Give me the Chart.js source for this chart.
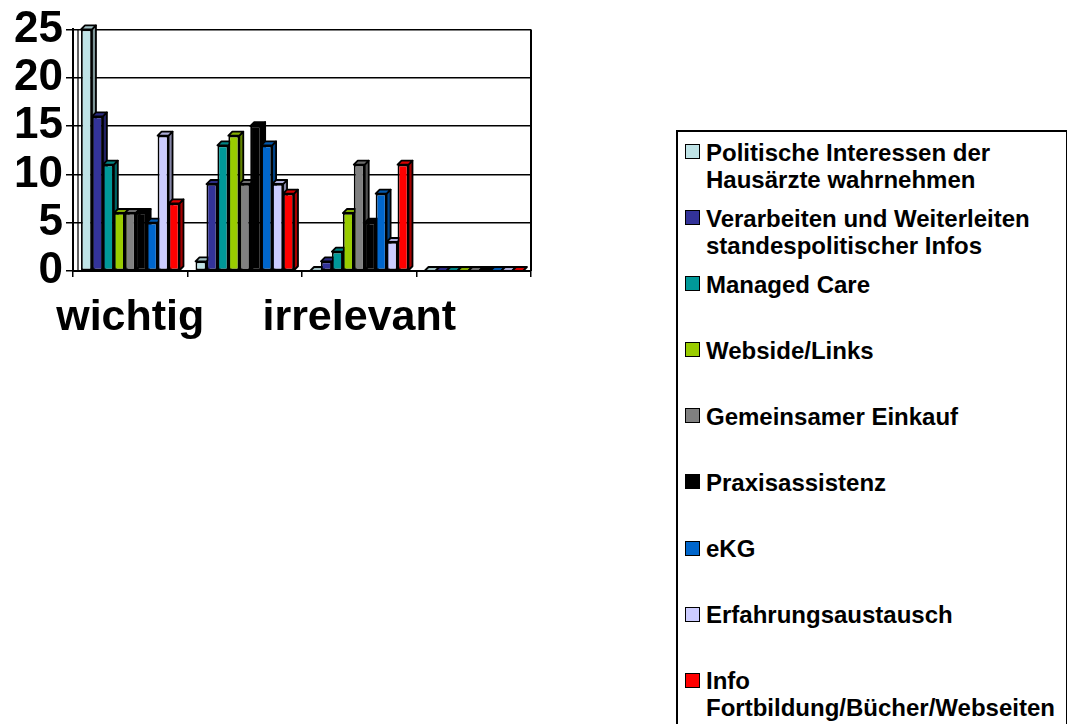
<!DOCTYPE html>
<html>
<head>
<meta charset="utf-8">
<script src="https://cdn.jsdelivr.net/npm/chart.js@4.4.1/dist/chart.umd.min.js"></script>
<style>
  body { margin: 0; background: #fff; width: 1067px; height: 724px; overflow: hidden; position: relative;
         font-family: "Liberation Sans", Arial, sans-serif; }
  #wrap { position: absolute; left: 0; top: 0; width: 545px; height: 360px; }
  #legend { position: absolute; left: 676px; top: 130px; width: 392px; height: 610px;
            border: 2px solid #000; box-sizing: border-box; padding-top: 6.5px; }
  .item { height: 66.1px; display: flex; align-items: flex-start; }
  .sw { width: 13px; height: 13px; border: 1.5px solid #000; margin: 5.5px 6px 0 7px; flex: none; }
  .txt { font-weight: bold; font-size: 24px; line-height: 27px; width: 352px; color: #000; }
</style>
</head>
<body>
<div id="wrap"><canvas id="chart"></canvas></div>
<div id="legend"></div>
<script>
// Kategorien (nur jede zweite wird beschriftet)
const categories = ['wichtig', '', 'irrelevant', ''];
const yTicks = [0, 5, 10, 15, 20, 25];

const seriesNames = [
    'Politische Interessen der Hausärzte wahrnehmen',
    'Verarbeiten und Weiterleiten standespolitischer Infos',
    'Managed Care',
    'Webside/Links',
    'Gemeinsamer Einkauf',
    'Praxisassistenz',
    'eKG',
    'Erfahrungsaustausch',
    'Info Fortbildung/Bücher/Webseiten'
];
const seriesColors = ['#bfe3e6', '#333399', '#009999', '#99cc00', '#808080', '#000000', '#0066cc', '#ccccff', '#ff0000'];

const politische   = [25, 1, 0, 0];
const verarbeiten  = [16, 9, 1, 0];
const managedCare  = [11, 13, 2, 0];
const webside      = [6, 14, 6, 0];
const einkauf      = [6, 9, 11, 0];
const praxis       = [6, 15, 5, 0];
const ekg          = [5, 13, 8, 0];
const erfahrung    = [14, 9, 3, 0];
const info         = [7, 8, 11, 0];

const seriesValues = [politische, verarbeiten, managedCare, webside, einkauf, praxis, ekg, erfahrung, info];

const DEPTH = 4;

function shade(hex, f) {
    const n = parseInt(hex.slice(1), 16);
    const r = Math.round(((n >> 16) & 255) * f);
    const g = Math.round(((n >> 8) & 255) * f);
    const b = Math.round((n & 255) * f);
    return `rgb(${r},${g},${b})`;
}

// Seiten- und Deckflächen der Säulen (3D-Optik wie in Excel)
const bars3d = {
    id: 'bars3d',
    beforeDatasetsDraw(chart) {
        const ctx = chart.ctx;
        const area = chart.chartArea;
        const d = DEPTH;
        ctx.save();
        ctx.strokeStyle = '#000';
        ctx.lineWidth = 2;
        ctx.beginPath();
        ctx.moveTo(area.right, area.top);
        ctx.lineTo(area.right, area.bottom);
        ctx.stroke();
        // hintere Wandkante
        ctx.lineWidth = 1.2;
        ctx.beginPath();
        ctx.moveTo(area.left + 5, area.top);
        ctx.lineTo(area.left + 5, area.bottom);
        ctx.stroke();
        ctx.lineJoin = 'round';
        ctx.lineWidth = 1.8;
        chart.data.datasets.forEach((ds, i) => {
            const meta = chart.getDatasetMeta(i);
            meta.data.forEach(bar => {
                const { x, y, base, width } = bar.getProps(['x', 'y', 'base', 'width'], true);
                const l = x - width / 2, r = x + width / 2;
                if (base - y > 0.5) {
                    ctx.beginPath();
                    ctx.moveTo(r, y);
                    ctx.lineTo(r + d, y - d);
                    ctx.lineTo(r + d, base - d);
                    ctx.lineTo(r, base);
                    ctx.closePath();
                    ctx.fillStyle = shade(ds.backgroundColor, 0.65);
                    ctx.fill();
                    ctx.stroke();
                }
                ctx.beginPath();
                ctx.moveTo(l, y);
                ctx.lineTo(l + d, y - d);
                ctx.lineTo(r + d, y - d);
                ctx.lineTo(r, y);
                ctx.closePath();
                ctx.fillStyle = shade(ds.backgroundColor, 0.85);
                ctx.fill();
                ctx.stroke();
            });
        });
        ctx.restore();
    }
};

const datasets = seriesNames.map((name, i) => ({
    label: name,
    data: seriesValues[i],
    backgroundColor: seriesColors[i],
    borderColor: '#000',
    borderWidth: 1.8,
    borderSkipped: false,
    barPercentage: 1.0,
    categoryPercentage: 0.86
}));

new Chart(document.getElementById('chart'), {
    type: 'bar',
    data: { labels: categories, datasets: datasets },
    options: {
        responsive: true,
        maintainAspectRatio: false,
        animation: false,
        layout: { padding: { top: 17, right: 14, left: 0, bottom: 0 } },
        plugins: {
            legend: { display: false },
            tooltip: { enabled: false }
        },
        scales: {
            x: {
                afterFit: s => { s.height = 89; },
                grid: { offset: true, drawOnChartArea: false, color: '#000', lineWidth: 1.5, tickLength: 6 },
                border: { color: '#000', width: 2 },
                ticks: {
                    autoSkip: false, maxRotation: 0, padding: 15, color: '#000',
                    font: { family: '"Liberation Sans", Arial, sans-serif', size: 43, weight: 'bold' }
                }
            },
            y: {
                min: 0,
                max: 25,
                afterFit: s => { s.width = 73; },
                afterBuildTicks: s => { s.ticks = yTicks.map(v => ({ value: v })); },
                grid: { color: '#000', lineWidth: 1.5, tickLength: 7 },
                border: { color: '#000', width: 2 },
                ticks: {
                    autoSkip: false, padding: 3, color: '#000',
                    font: { family: '"Liberation Sans", Arial, sans-serif', size: 44, weight: 'bold' }
                }
            }
        }
    },
    plugins: [bars3d]
});

// Legende als HTML
const legend = document.getElementById('legend');
seriesNames.forEach((name, i) => {
    const item = document.createElement('div');
    item.className = 'item';
    const sw = document.createElement('div');
    sw.className = 'sw';
    sw.style.background = seriesColors[i];
    const txt = document.createElement('div');
    txt.className = 'txt';
    txt.textContent = name;
    item.appendChild(sw);
    item.appendChild(txt);
    legend.appendChild(item);
});
</script>
</body>
</html>
